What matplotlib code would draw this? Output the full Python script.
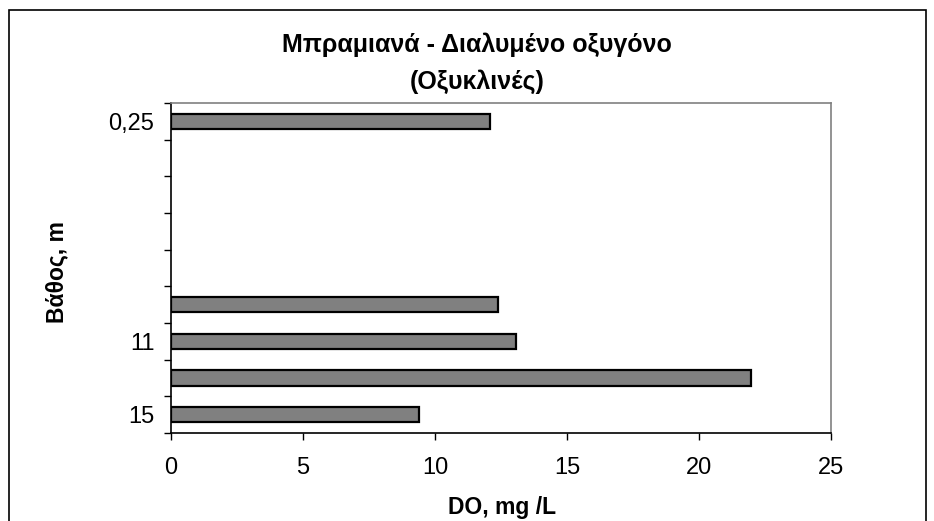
import matplotlib
matplotlib.use("Agg")
import matplotlib.pyplot as plt
import numpy as np
from matplotlib.patches import Rectangle

plt.rcParams['font.family'] = ['Liberation Sans', 'DejaVu Sans']

# Data (rows from top to bottom)
depth_labels = ["0,25", "", "", "", "", "", "11", "", "15"]
do_values = [12.1, np.nan, np.nan, np.nan, np.nan, 12.4, 13.05, 21.98, 9.4]
x_ticks = [0, 5, 10, 15, 20, 25]

W, H = 934, 521
fig = plt.figure(figsize=(W / 100, H / 100), dpi=100)
ax = fig.add_axes([171 / W, 1 - 433 / H, (831 - 171) / W, (433 - 103) / H])

n = len(depth_labels)
pos = np.arange(n)
vals = np.array(do_values, dtype=float)
mask = ~np.isnan(vals)
ax.barh(pos[mask], vals[mask], height=0.41, color="#808080",
        edgecolor="black", linewidth=1.6, zorder=3)

ax.set_ylim(n - 0.5, -0.5)
ax.set_xlim(0, 25)
ax.set_xticks(x_ticks)
ax.set_xticklabels([str(t) for t in x_ticks], fontsize=17)

# category boundary ticks (major) and labels at centers (minor)
ax.set_yticks(np.arange(-0.5, n, 1.0))
ax.set_yticklabels([])
ax.set_yticks(pos, minor=True)
ax.set_yticklabels(depth_labels, minor=True, fontsize=17)
ax.tick_params(axis='y', which='minor', length=0, pad=12)
ax.tick_params(axis='y', which='major', length=5, width=1, direction='out')
ax.tick_params(axis='x', which='major', length=5, width=1, direction='out', pad=12)

for s in ['left', 'bottom']:
    ax.spines[s].set_color('black')
    ax.spines[s].set_linewidth(1.2)
for s in ['top', 'right']:
    ax.spines[s].set_color('#808080')
    ax.spines[s].set_linewidth(1.2)

ax.set_xlabel("DO, mg /L", fontsize=16.5, fontweight='bold')
ax.set_ylabel("Βάθος, m", fontsize=16.5, fontweight='bold')
ax.xaxis.set_label_coords(0.502, -0.227)
ax.yaxis.set_label_coords(-0.173, 0.488)
ax.xaxis.label.set_va('center')
ax.yaxis.label.set_va('center')

fig.text(477 / W, 1 - 45 / H, "Μπραμιανά - Διαλυμένο οξυγόνο",
         ha='center', va='center', fontsize=18, fontweight='bold')
fig.text(477 / W, 1 - 82 / H, "(Οξυκλινές)",
         ha='center', va='center', fontsize=18, fontweight='bold')

# outer border
fig.patches.append(Rectangle((9 / W, -0.05), (926 - 9) / W, 1 - 10 / H + 0.05,
                             transform=fig.transFigure, fill=False,
                             edgecolor='black', linewidth=1.2))

fig.savefig("out.png", dpi=100)
